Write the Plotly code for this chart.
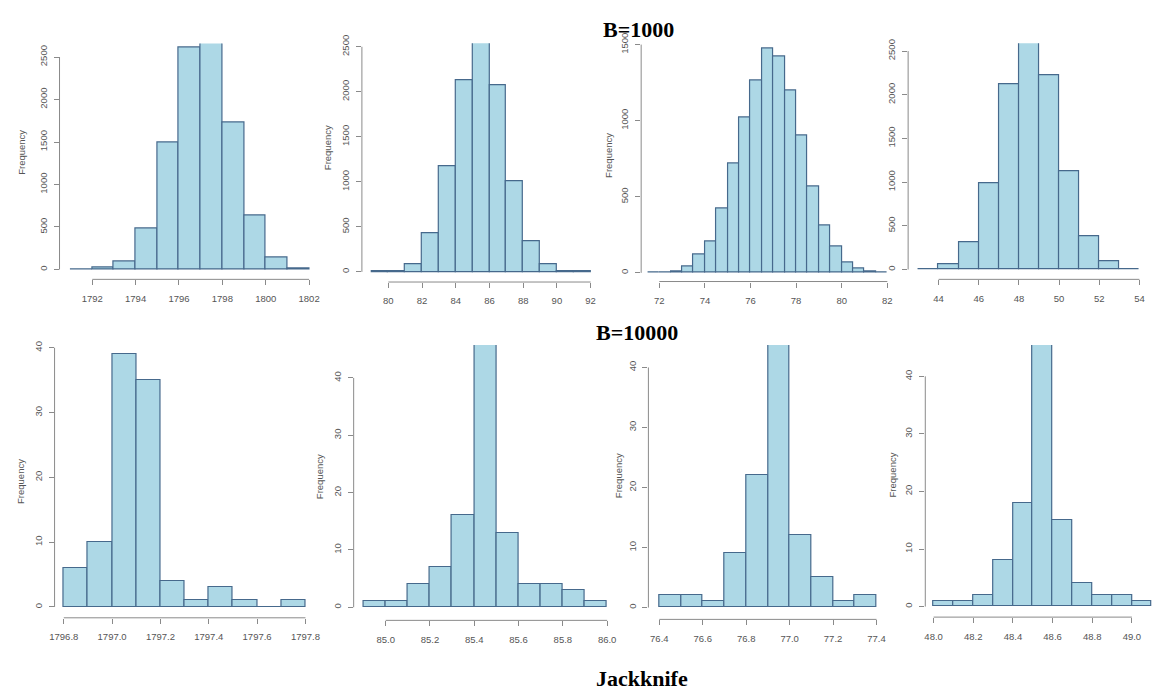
import plotly.graph_objects as go

W, H = 1159, 693

# ---------------- DATA ----------------
# Row 1 (B=1000) histograms: bin start, bin width, counts
p1_start, p1_width = 1791, 1
p1_counts = [2, 27, 93, 482, 1490, 2607, 2771, 1734, 637, 142, 15]
p1_xticks = [1792, 1794, 1796, 1798, 1800, 1802]
p1_yticks = [0, 500, 1000, 1500, 2000, 2500]

p2_start, p2_width = 79, 1
p2_counts = [2, 10, 80, 430, 1170, 2130, 2660, 2070, 1010, 342, 88, 10, 2]
p2_xticks = [80, 82, 84, 86, 88, 90, 92]
p2_yticks = [0, 500, 1000, 1500, 2000, 2500]

p3_start, p3_width = 71.5, 0.5
p3_counts = [1, 3, 10, 43, 118, 209, 420, 718, 1024, 1267, 1476, 1424, 1196,
             903, 565, 312, 172, 69, 30, 11, 4]
p3_xticks = [72, 74, 76, 78, 80, 82]
p3_yticks = [0, 500, 1000, 1500]

p4_start, p4_width = 43, 1
p4_counts = [3, 56, 316, 985, 2120, 2692, 2229, 1128, 376, 94, 3]
p4_xticks = [44, 46, 48, 50, 52, 54]
p4_yticks = [0, 500, 1000, 1500, 2000, 2500]

# Row 2 (B=10000) histograms
p5_start, p5_width = 1796.8, 0.1
p5_counts = [6, 10, 39, 35, 4, 1, 3, 1, 0, 1]
p5_xticks = [1796.8, 1797.0, 1797.2, 1797.4, 1797.6, 1797.8]
p5_xlabels = ["1796.8", "1797.0", "1797.2", "1797.4", "1797.6", "1797.8"]
p5_yticks = [0, 10, 20, 30, 40]

p6_start, p6_width = 84.9, 0.1
p6_counts = [1, 1, 4, 7, 16, 46, 13, 4, 4, 3, 1]
p6_xticks = [85.0, 85.2, 85.4, 85.6, 85.8, 86.0]
p6_xlabels = ["85.0", "85.2", "85.4", "85.6", "85.8", "86.0"]
p6_yticks = [0, 10, 20, 30, 40]

p7_start, p7_width = 76.4, 0.1
p7_counts = [2, 2, 1, 9, 22, 44, 12, 5, 1, 2]
p7_xticks = [76.4, 76.6, 76.8, 77.0, 77.2, 77.4]
p7_xlabels = ["76.4", "76.6", "76.8", "77.0", "77.2", "77.4"]
p7_yticks = [0, 10, 20, 30, 40]

p8_start, p8_width = 48.0, 0.1
p8_counts = [1, 1, 2, 8, 18, 46, 15, 4, 2, 2, 1]
p8_xticks = [48.0, 48.2, 48.4, 48.6, 48.8, 49.0]
p8_xlabels = ["48.0", "48.2", "48.4", "48.6", "48.8", "49.0"]
p8_yticks = [0, 10, 20, 30, 40]

titles = ["B=1000", "B=10000", "Jackknife"]
ylabel = "Frequency"

# ---------------- LAYOUT (pixel calibration of each panel) ----------------
panels = [
    dict(start=p1_start, width=p1_width, counts=p1_counts, xt=p1_xticks, xl=None, yt=p1_yticks,
         cal=(1792, 88, 1800, 263, 55, 316.4), ycal=(2500, 263.3, 47.7, 273.3, 34), lab=(17, 144)),
    dict(start=p2_start, width=p2_width, counts=p2_counts, xt=p2_xticks, xl=None, yt=p2_yticks,
         cal=(80, 386.7, 90, 556.7, 360, 599.5), ycal=(2000, 265.7, 83, 276, 33.7), lab=(326, 140)),
    dict(start=p3_start, width=p3_width, counts=p3_counts, xt=p3_xticks, xl=None, yt=p3_yticks,
         cal=(72, 660, 80, 844, 641.7, 899.7), ycal=(1000, 266.7, 112.3, 275.5, 33), lab=(609.3, 148)),
    dict(start=p4_start, width=p4_width, counts=p4_counts, xt=p4_xticks, xl=None, yt=p4_yticks,
         cal=(44, 941.7, 54, 1144.3, 911, 1153.2), ycal=(2000, 263.3, 86, 273.3, 33.7), lab=None),
    dict(start=p5_start, width=p5_width, counts=p5_counts, xt=p5_xticks, xl=p5_xlabels, yt=p5_yticks,
         cal=(1796.8, 59.3, 1797.6, 254.3, 50, 312.8), ycal=(40, 605.7, 342.7, 616.7, 339), lab=(15, 478)),
    dict(start=p6_start, width=p6_width, counts=p6_counts, xt=p6_xticks, xl=p6_xlabels, yt=p6_yticks,
         cal=(85.0, 384, 85.8, 562.7, 351.7, 617.1), ycal=(40, 606, 373.3, 619.3, 340), lab=(316.7, 473)),
    dict(start=p7_start, width=p7_width, counts=p7_counts, xt=p7_xticks, xl=p7_xlabels, yt=p7_yticks,
         cal=(76.4, 660, 77.2, 835.3, 649, 888), ycal=(40, 606.3, 362.7, 618.3, 340), lab=(618.3, 472)),
    dict(start=p8_start, width=p8_width, counts=p8_counts, xt=p8_xticks, xl=p8_xlabels, yt=p8_yticks,
         cal=(48.0, 936.7, 49.0, 1136.7, 928.3, 1159), ycal=(40, 605.3, 371.7, 616, 340), lab=(895, 472)),
]

FILL = "#ADD8E6"
EDGE = "#46698c"
AXIS = "#8a8a8a"
TXT = "#555555"
TICKFONT = dict(family="Liberation Sans, Arial, sans-serif", size=9.5, color=TXT)

fig = go.Figure()
shapes = []
annotations = []
layout_axes = {}

for i, p in enumerate(panels, start=1):
    xref = "x" if i == 1 else f"x{i}"
    yref = "y" if i == 1 else f"y{i}"
    xa, pa, xb, pb, left, right = p["cal"]
    s = (pb - pa) / (xb - xa)
    xr = [xa + (left - pa) / s, xa + (right - pa) / s]
    yv, p0, p1, bottom, top = p["ycal"]
    sy = (p0 - p1) / yv
    yr = [-(bottom - p0) / sy, (p0 - top) / sy]

    centers = [p["start"] + (k + 0.5) * p["width"] for k in range(len(p["counts"]))]
    fig.add_trace(go.Bar(
        x=centers, y=p["counts"], width=[p["width"]] * len(centers),
        marker=dict(color=FILL, line=dict(color=EDGE, width=1.2)),
        xaxis=xref, yaxis=yref, showlegend=False, hoverinfo="x+y",
    ))

    xname = "xaxis" if i == 1 else f"xaxis{i}"
    yname = "yaxis" if i == 1 else f"yaxis{i}"
    xt = p["xt"]
    xl = p["xl"] if p["xl"] is not None else [str(v) for v in xt]
    layout_axes[xname] = dict(
        domain=[left / W, min(right / W, 1.0)], range=xr, anchor=yref,
        tickmode="array", tickvals=xt, ticktext=xl,
        ticks="outside", ticklen=5, tickcolor=AXIS, tickwidth=1,
        showline=False, showgrid=False, zeroline=False,
        tickfont=TICKFONT, ticklabelstandoff=5, fixedrange=True,
    )
    layout_axes[yname] = dict(
        domain=[1 - bottom / H, 1 - top / H], range=yr, anchor=xref,
        tickmode="array", tickvals=p["yt"], ticktext=[str(v) for v in p["yt"]],
        ticks="outside", ticklen=5, tickcolor=AXIS, tickwidth=1, tickangle=-90,
        showline=False, showgrid=False, zeroline=False,
        tickfont=TICKFONT, ticklabelstandoff=3, fixedrange=True,
    )
    # R-style axis lines spanning only the tick range
    shapes.append(dict(type="line", xref=xref, yref=f"{yref} domain",
                       x0=xt[0], x1=xt[-1], y0=0, y1=0,
                       line=dict(color=AXIS, width=1)))
    shapes.append(dict(type="line", xref=f"{xref} domain", yref=yref,
                       x0=0, x1=0, y0=p["yt"][0], y1=p["yt"][-1],
                       line=dict(color=AXIS, width=1)))
    if p["lab"] is not None:
        lx, ly = p["lab"]
        annotations.append(dict(text=ylabel, x=lx / W, y=1 - ly / H, xref="paper", yref="paper",
                                showarrow=False, textangle=-90, xanchor="center", yanchor="middle",
                                font=dict(family="Liberation Sans, Arial, sans-serif", size=9.5, color=TXT)))

TITLEFONT = dict(family="Liberation Serif, Times New Roman, serif", size=22, color="black")
for txt, (tx, ty) in zip(titles, [(639.3, 19.5), (637.5, 327.5), (643, 678)]):
    annotations.append(dict(text=f"<b>{txt}</b>", x=tx / W, y=1 - ty / H, xref="paper", yref="paper",
                            showarrow=False, xanchor="center", yanchor="middle", font=TITLEFONT))

fig.update_layout(
    width=W, height=H, autosize=False,
    margin=dict(l=0, r=0, t=0, b=0, pad=0),
    paper_bgcolor="white", plot_bgcolor="white",
    bargap=0, shapes=shapes, annotations=annotations,
    **layout_axes,
)

fig.write_html(
    "out.html",
    config={"displayModeBar": False},
    post_script="document.body.style.margin='0';document.body.style.overflow='hidden';",
)
